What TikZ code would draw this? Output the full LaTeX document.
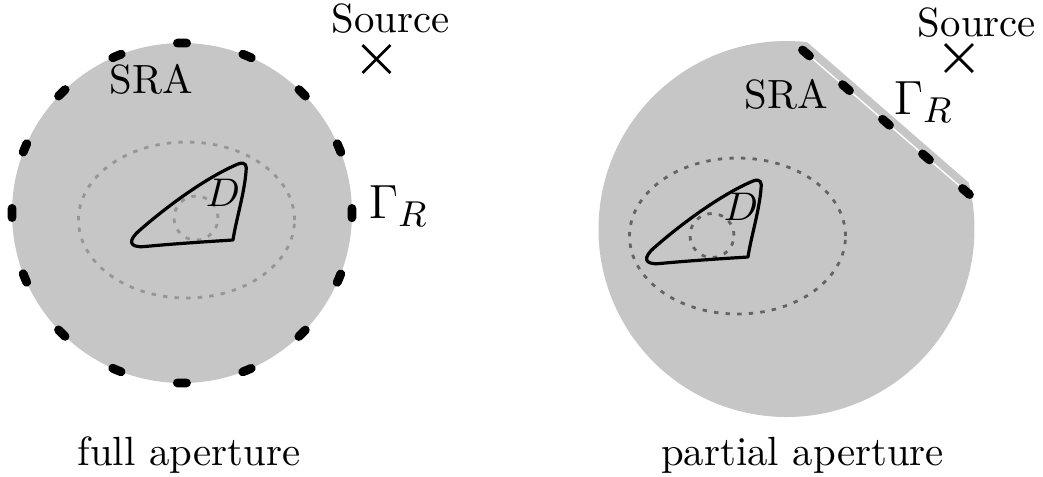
\documentclass[tikz,border=0pt]{standalone}
\usetikzlibrary{calc,shapes.misc}
\definecolor{srafill}{RGB}{198,198,198}
\definecolor{ellL}{RGB}{150,150,150}
\definecolor{ellR}{RGB}{100,100,100}
\tikzset{
  gammadash/.style={line width=2.2pt,line cap=round,black},
  elldash/.style={line width=0.7pt,dash pattern=on 1.1pt off 1.8pt},
  dcurve/.style={line width=0.8pt,line join=round},
  srcmark/.style={cross out,draw,minimum size=6.25pt,inner sep=0pt,line width=0.7pt},
  lbl/.style={inner sep=0pt,font=\fontsize{10.2}{12}\selectfont},
  gamlbl/.style={inner sep=0pt,anchor=base west,font=\fontsize{13}{15}\selectfont},
  dshape/.pic={
    \draw[dcurve] (0,0) .. controls (-33,2) and (-68,4.5) .. (-88,6.5)
      .. controls (-105,8) and (-105,0) .. (-93,-10)
      .. controls (-68,-32) and (-28,-62) .. (5,-76)
      .. controls (13,-79) and (14,-74) .. (13,-68)
      .. controls (11,-45) and (3,-20) .. (0,0) -- cycle;
  }
}
\begin{document}
\begin{tikzpicture}[x=0.25pt,y=-0.25pt]
\useasboundingbox (0,0) rectangle (1043,476);
% ---------- full aperture ----------
\coordinate (CL) at (182,213);
\fill[srafill] (CL) circle[radius=42.5pt];
\draw[ellL,elldash] (186.5,220) circle[x radius=27pt,y radius=19.5pt];
\draw[ellL,elldash] (196,218) circle[radius=5.5pt];
\pic at (233,240) {dshape};
\node[lbl] (DL) at (223,193) {$D$};
\draw[gammadash,dash pattern=on 2.3pt off 14.39pt,dash phase=1.15pt] (CL) circle[radius=42.5pt];
\node[lbl,anchor=base] (sraL) at (151,93) {SRA};
\node[gamlbl] (gamL) at (368,218) {$\Gamma_R$};
\node[lbl,anchor=base] (srcLtxt) at (390.5,32) {Source};
\node[srcmark] (srcL) at (376.5,59) {};
\node[lbl,anchor=base] (capL) at (189,465) {full aperture};
% ---------- partial aperture ----------
\coordinate (CR) at (786.5,229);
\fill[srafill] ($(CR)+(83.7:47pt)$) arc[start angle=83.7,end angle=374.3,radius=47pt] -- cycle;
\draw[ellR,elldash] (737.5,236) circle[x radius=27pt,y radius=19.5pt];
\draw[ellR,elldash] (712,235.5) circle[radius=5.5pt];
\pic at (748,257) {dshape};
\node[lbl] (DR) at (741,207) {$D$};
\coordinate (P1) at (806,53);
\coordinate (P2) at (966,191.5);
\draw[white,line width=0.35pt] (P1) -- (P2);
\draw[gammadash,dash pattern=on 2.3pt off 10.925pt] ($(P1)!-1.15pt!(P2)$) -- ($(P2)!-1.15pt!(P1)$);
\node[lbl,anchor=base] (sraR) at (786.5,108) {SRA};
\node[gamlbl] (gamR) at (893,114) {$\Gamma_R$};
\node[lbl,anchor=base] (srcRtxt) at (977,36.5) {Source};
\node[srcmark] (srcR) at (959,58) {};
\node[lbl,anchor=base] (capR) at (802.5,465) {partial aperture};
\end{tikzpicture}
\end{document}
